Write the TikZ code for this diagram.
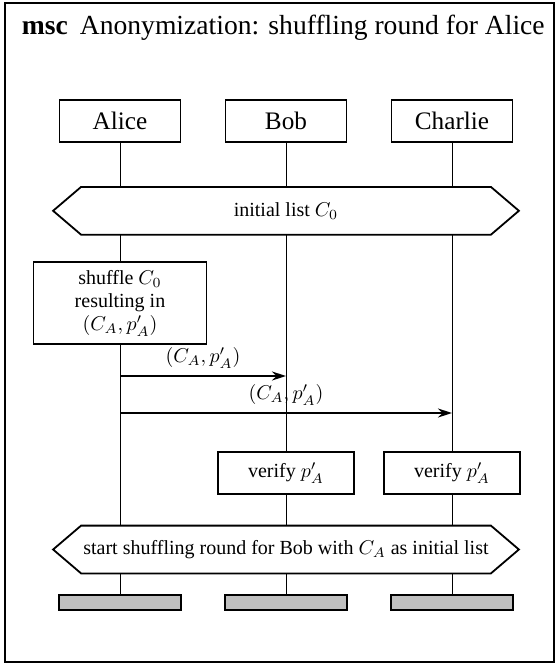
\documentclass[tikz,border=0pt]{standalone}
\usepackage{amsmath}
\usepackage{fontspec}
\setmainfont{Liberation Serif}
\usetikzlibrary{positioning,fit,calc,arrows.meta,backgrounds}

\begin{document}
\begin{tikzpicture}[x=0.5pt, y=-0.5pt, line width=0.9pt, >={Stealth[length=7pt,width=4.5pt]},
  head/.style={rectangle, draw, fill=white, minimum width=60.5pt, minimum height=21pt, inner sep=0pt, font=\fontsize{12.6}{15}\selectfont},
  cond/.style={rectangle, minimum width=204pt, minimum height=23pt, inner sep=0pt, font=\fontsize{10}{12}\selectfont},
  hexa/.style={draw, fill=white},
  act/.style={rectangle, draw, fill=white, align=center, inner sep=0pt, font=\fontsize{10}{11.6}\selectfont},
  msg/.style={->},
  endbar/.style={rectangle, draw, fill=black!25, minimum width=61pt, minimum height=7.5pt, inner sep=0pt}]

  \useasboundingbox (0,0) rectangle (560,665);

  \node [anchor=base west, inner sep=0pt, font=\fontsize{13.8}{16}\selectfont] (ttl) at (21,34)
      {\textbf{msc}\hspace{6pt}Anonymization: shuffling round for Alice};

  \node [head] (alice) at (120,121) {Alice};
  \node [head, right=21.6pt of alice] (bob) {Bob};
  \node [head, right=21.6pt of bob] (charlie) {Charlie};

  \node [cond, below=22pt of bob] (init) {};
  \draw [hexa] (init.north west) -- (init.north east) -- ($(init.east)+(28,0)$) -- (init.south east)
      -- (init.south west) -- ($(init.west)+(-28,0)$) -- cycle;
  \node [cond] at (init) {initial list $C_0$};

  \node [act, minimum width=86.5pt, minimum height=41pt] (shuffle) at (alice |- 0,303)
      {shuffle $C_0$\\ resulting in\\ $(C_A,p'_A)$};

  \coordinate (m1s) at (alice |- 0,376);
  \coordinate (m1e) at (bob |- 0,376);
  \coordinate (m2s) at (alice |- 0,413);
  \coordinate (m2e) at (charlie |- 0,413);
  \draw[msg] (m1s) -- node[above, font=\fontsize{10}{12}\selectfont] {$(C_A,p'_A)$} (m1e);
  \draw[msg] (m2s) -- node[above, font=\fontsize{10}{12}\selectfont] {$(C_A,p'_A)$} (m2e);

  \node [act, minimum width=68pt, minimum height=21pt] (vbob) at (bob |- 0,473) {verify $p'_A$};
  \node [act, minimum width=68pt, minimum height=21pt] (vcharlie) at (charlie |- vbob) {verify $p'_A$};

  \node [cond] (next) at (bob |- 0,549.5) {};
  \draw [hexa] (next.north west) -- (next.north east) -- ($(next.east)+(28,0)$) -- (next.south east)
      -- (next.south west) -- ($(next.west)+(-28,0)$) -- cycle;
  \node [cond] at (next) {start shuffling round for Bob with $C_A$ as initial list};

  \node [endbar] (aliceend) at (alice |- 0,602.5) {};
  \node [endbar] (bobend) at (bob |- 0,602.5) {};
  \node [endbar] (charlieend) at (charlie |- 0,602.5) {};

  \begin{scope}[on background layer]
    \draw (alice) -- (aliceend);
    \draw (bob) -- (bobend);
    \draw (charlie) -- (charlieend);
  \end{scope}

  \coordinate (nw) at (5,3);
  \coordinate (se) at (554,662);
  \node[fit=(nw)(se), draw, inner sep=0pt] (frame) {};
\end{tikzpicture}
\end{document}
